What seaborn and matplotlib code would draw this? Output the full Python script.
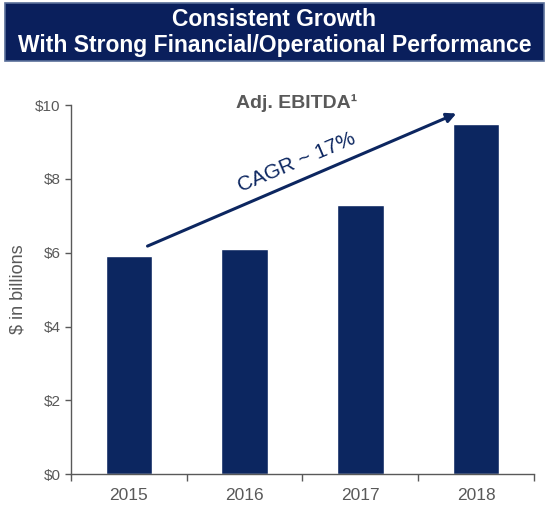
import matplotlib
matplotlib.use("Agg")
import matplotlib.pyplot as plt
from matplotlib.patches import Rectangle
import pandas as pd
import seaborn as sns

years = ["2015", "2016", "2017", "2018"]
ebitda = [5.9, 6.1, 7.3, 9.5]
y_ticks = [0, 2, 4, 6, 8, 10]
y_tick_labels = ["$0", "$2", "$4", "$6", "$8", "$10"]

NAVY = "#0c2660"
GREY = "#595959"

sns.set_style("white")
plt.rcParams["font.family"] = ["Liberation Sans", "DejaVu Sans"]

df = pd.DataFrame({"year": years, "ebitda": ebitda})

fig = plt.figure(figsize=(5.49, 5.2), dpi=100)
ax = fig.add_axes([0.129, 0.088, 0.844, 0.71])

sns.barplot(data=df, x="year", y="ebitda", color=NAVY, width=0.4,
            saturation=1, ax=ax)

ax.set_ylim(0, 10)
ax.set_xlim(-0.5, 3.5)
ax.set_yticks(y_ticks)
ax.set_yticklabels(y_tick_labels)
ax.set_xticks(range(len(years)))
ax.set_xticklabels(years)
ax.set_xticks([i - 0.5 for i in range(len(years) + 1)], minor=True)
ax.tick_params(axis="x", which="major", length=0, pad=10, labelsize=12.5, labelcolor=GREY)
ax.tick_params(axis="x", which="minor", length=5, width=1, color=GREY, direction="out", bottom=True)
ax.tick_params(axis="y", length=4, width=1, color=GREY, direction="out", left=True,
               labelsize=11, labelcolor=GREY)
ax.set_xlabel("")
ax.set_ylabel("$ in billions", fontsize=13, color=GREY, labelpad=6)

for side in ["top", "right"]:
    ax.spines[side].set_visible(False)
for side in ["left", "bottom"]:
    ax.spines[side].set_color(GREY)
    ax.spines[side].set_linewidth(1)

# growth arrow + labels
ax.annotate("", xy=(2.85, 9.8), xytext=(0.14, 6.15),
            arrowprops=dict(arrowstyle="-|>", color=NAVY, lw=2.2, mutation_scale=14))
ax.text(1.45, 8.45, "CAGR ~ 17%", rotation=23, color=NAVY, fontsize=15,
        ha="center", va="center")
ax.text(1.45, 10.05, "Adj. EBITDA\u00b9", color=GREY, fontsize=14, fontweight="bold",
        ha="center", va="center")

# title banner
fig.patches.append(Rectangle((0.009, 0.882), 0.981, 0.112, transform=fig.transFigure,
                             facecolor="#0a1f5c", edgecolor="#5a6f9a", lw=1.2))
fig.text(0.5, 0.962, "Consistent Growth", color="white", fontsize=16.5,
         fontweight="bold", ha="center", va="center")
fig.text(0.5, 0.912, "With Strong Financial/Operational Performance", color="white",
         fontsize=16.5, fontweight="bold", ha="center", va="center")

fig.savefig("out.png", dpi=100)
